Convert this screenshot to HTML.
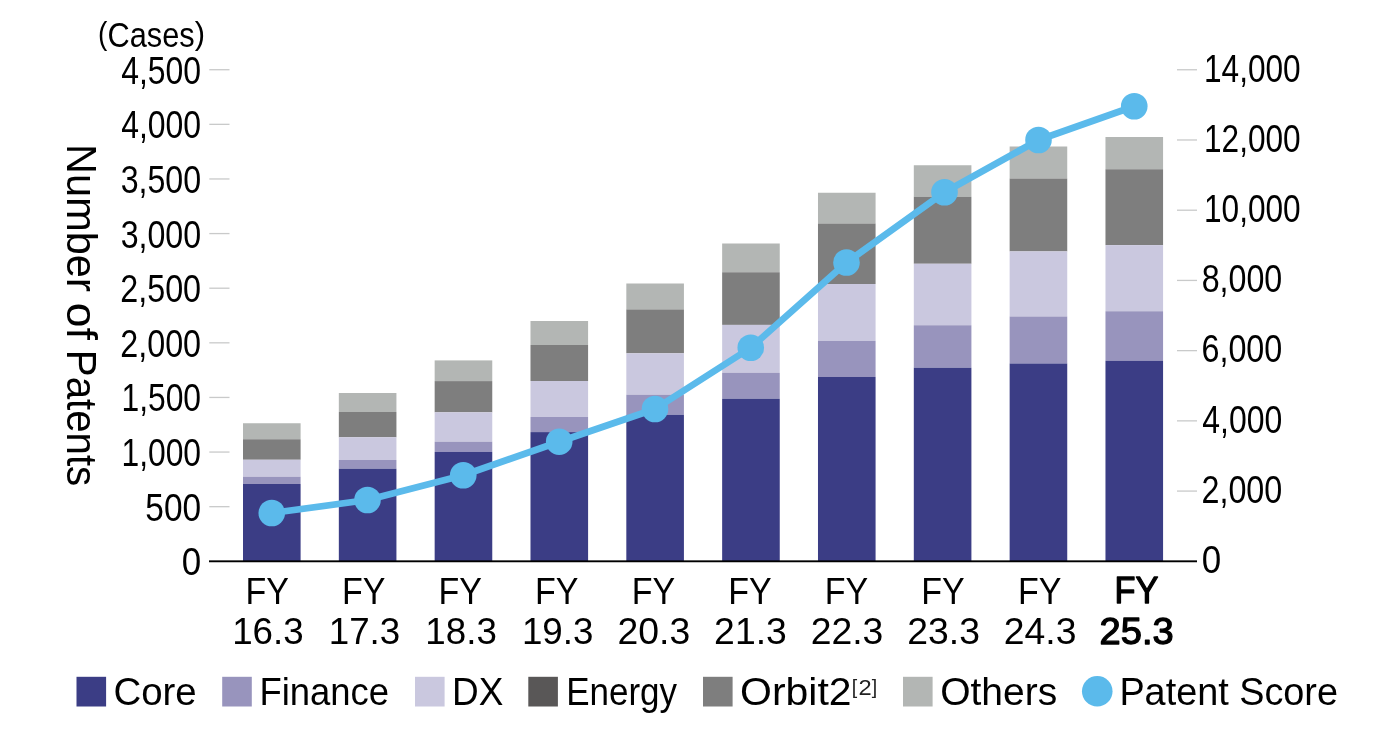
<!DOCTYPE html>
<html lang="en">
<head>
<meta charset="utf-8">
<title>Number of Patents and Patent Score</title>
<style>
html,body{margin:0;padding:0;background:#fff;}
body{width:1400px;height:742px;overflow:hidden;}
svg{display:block;font-family:"Liberation Sans", sans-serif;}
text{white-space:pre;font-kerning:none;}
</style>
</head>
<body>
<svg width="1400" height="742" viewBox="0 0 1400 742">
<rect width="1400" height="742" fill="#fff"/>
<rect x="209.3" y="506.03" width="20.2" height="1.3" fill="#c9caca"/>
<rect x="209.3" y="451.41" width="20.2" height="1.3" fill="#c9caca"/>
<rect x="209.3" y="396.79" width="20.2" height="1.3" fill="#c9caca"/>
<rect x="209.3" y="342.17" width="20.2" height="1.3" fill="#c9caca"/>
<rect x="209.3" y="287.55" width="20.2" height="1.3" fill="#c9caca"/>
<rect x="209.3" y="232.93" width="20.2" height="1.3" fill="#c9caca"/>
<rect x="209.3" y="178.31" width="20.2" height="1.3" fill="#c9caca"/>
<rect x="209.3" y="123.69" width="20.2" height="1.3" fill="#c9caca"/>
<rect x="209.3" y="69.07" width="20.2" height="1.3" fill="#c9caca"/>
<rect x="1177" y="490.43" width="20" height="1.3" fill="#c9caca"/>
<rect x="1177" y="420.21" width="20" height="1.3" fill="#c9caca"/>
<rect x="1177" y="349.99" width="20" height="1.3" fill="#c9caca"/>
<rect x="1177" y="279.77" width="20" height="1.3" fill="#c9caca"/>
<rect x="1177" y="209.55" width="20" height="1.3" fill="#c9caca"/>
<rect x="1177" y="139.33" width="20" height="1.3" fill="#c9caca"/>
<rect x="1177" y="69.11" width="20" height="1.3" fill="#c9caca"/>
<rect x="243.00" y="423.25" width="57.6" height="16.00" fill="#b3b6b4"/>
<rect x="243.00" y="439.25" width="57.6" height="20.50" fill="#7e7e7e"/>
<rect x="243.00" y="459.75" width="57.6" height="17.00" fill="#cac8df"/>
<rect x="243.00" y="476.75" width="57.6" height="7.25" fill="#9894bd"/>
<rect x="243.00" y="484.00" width="57.6" height="77.25" fill="#3b3d85"/>
<rect x="338.83" y="393.00" width="57.6" height="19.00" fill="#b3b6b4"/>
<rect x="338.83" y="412.00" width="57.6" height="25.25" fill="#7e7e7e"/>
<rect x="338.83" y="437.25" width="57.6" height="22.75" fill="#cac8df"/>
<rect x="338.83" y="460.00" width="57.6" height="8.75" fill="#9894bd"/>
<rect x="338.83" y="468.75" width="57.6" height="92.50" fill="#3b3d85"/>
<rect x="434.66" y="360.40" width="57.6" height="20.70" fill="#b3b6b4"/>
<rect x="434.66" y="381.10" width="57.6" height="31.20" fill="#7e7e7e"/>
<rect x="434.66" y="412.30" width="57.6" height="29.40" fill="#cac8df"/>
<rect x="434.66" y="441.70" width="57.6" height="10.20" fill="#9894bd"/>
<rect x="434.66" y="451.90" width="57.6" height="109.35" fill="#3b3d85"/>
<rect x="530.49" y="321.00" width="57.6" height="24.00" fill="#b3b6b4"/>
<rect x="530.49" y="345.00" width="57.6" height="36.00" fill="#7e7e7e"/>
<rect x="530.49" y="381.00" width="57.6" height="36.00" fill="#cac8df"/>
<rect x="530.49" y="417.00" width="57.6" height="15.10" fill="#9894bd"/>
<rect x="530.49" y="432.10" width="57.6" height="129.15" fill="#3b3d85"/>
<rect x="626.32" y="283.50" width="57.6" height="25.90" fill="#b3b6b4"/>
<rect x="626.32" y="309.40" width="57.6" height="43.90" fill="#7e7e7e"/>
<rect x="626.32" y="353.30" width="57.6" height="41.40" fill="#cac8df"/>
<rect x="626.32" y="394.70" width="57.6" height="20.10" fill="#9894bd"/>
<rect x="626.32" y="414.80" width="57.6" height="146.45" fill="#3b3d85"/>
<rect x="722.15" y="243.50" width="57.6" height="28.75" fill="#b3b6b4"/>
<rect x="722.15" y="272.25" width="57.6" height="52.65" fill="#7e7e7e"/>
<rect x="722.15" y="324.90" width="57.6" height="47.85" fill="#cac8df"/>
<rect x="722.15" y="372.75" width="57.6" height="26.00" fill="#9894bd"/>
<rect x="722.15" y="398.75" width="57.6" height="162.50" fill="#3b3d85"/>
<rect x="817.98" y="192.75" width="57.6" height="30.75" fill="#b3b6b4"/>
<rect x="817.98" y="223.50" width="57.6" height="60.50" fill="#7e7e7e"/>
<rect x="817.98" y="284.00" width="57.6" height="56.90" fill="#cac8df"/>
<rect x="817.98" y="340.90" width="57.6" height="36.00" fill="#9894bd"/>
<rect x="817.98" y="376.90" width="57.6" height="184.35" fill="#3b3d85"/>
<rect x="913.81" y="165.25" width="57.6" height="31.50" fill="#b3b6b4"/>
<rect x="913.81" y="196.75" width="57.6" height="67.00" fill="#7e7e7e"/>
<rect x="913.81" y="263.75" width="57.6" height="61.50" fill="#cac8df"/>
<rect x="913.81" y="325.25" width="57.6" height="42.50" fill="#9894bd"/>
<rect x="913.81" y="367.75" width="57.6" height="193.50" fill="#3b3d85"/>
<rect x="1009.64" y="146.50" width="57.6" height="32.00" fill="#b3b6b4"/>
<rect x="1009.64" y="178.50" width="57.6" height="72.90" fill="#7e7e7e"/>
<rect x="1009.64" y="251.40" width="57.6" height="65.10" fill="#cac8df"/>
<rect x="1009.64" y="316.50" width="57.6" height="47.00" fill="#9894bd"/>
<rect x="1009.64" y="363.50" width="57.6" height="197.75" fill="#3b3d85"/>
<rect x="1105.47" y="137.00" width="57.6" height="32.25" fill="#b3b6b4"/>
<rect x="1105.47" y="169.25" width="57.6" height="75.85" fill="#7e7e7e"/>
<rect x="1105.47" y="245.10" width="57.6" height="66.15" fill="#cac8df"/>
<rect x="1105.47" y="311.25" width="57.6" height="49.50" fill="#9894bd"/>
<rect x="1105.47" y="360.75" width="57.6" height="200.50" fill="#3b3d85"/>
<rect x="209" y="560.35" width="988" height="1.9" fill="#000"/>
<polyline fill="none" stroke="#5bbaeb" stroke-width="6.8" stroke-linejoin="round" points="271.75,513 367.5,500 463.25,475.25 559.2,441.7 655,409 750.75,347.75 846.5,262.5 944.5,192.25 1038.5,140 1134.25,106.25"/>
<circle cx="271.75" cy="513" r="13.3" fill="#5bbaeb"/>
<circle cx="367.5" cy="500" r="13.3" fill="#5bbaeb"/>
<circle cx="463.25" cy="475.25" r="13.3" fill="#5bbaeb"/>
<circle cx="559.2" cy="441.7" r="13.3" fill="#5bbaeb"/>
<circle cx="655" cy="409" r="13.3" fill="#5bbaeb"/>
<circle cx="750.75" cy="347.75" r="13.3" fill="#5bbaeb"/>
<circle cx="846.5" cy="262.5" r="13.3" fill="#5bbaeb"/>
<circle cx="944.5" cy="192.25" r="13.3" fill="#5bbaeb"/>
<circle cx="1038.5" cy="140" r="13.3" fill="#5bbaeb"/>
<circle cx="1134.25" cy="106.25" r="13.3" fill="#5bbaeb"/>
<text fill="#000"><tspan x="98.01" y="44.30" font-size="32.1" textLength="9.36" lengthAdjust="spacingAndGlyphs">(</tspan><tspan x="107.44" y="46.50" font-size="35.5" textLength="87.17" lengthAdjust="spacingAndGlyphs">Cases</tspan><tspan x="194.72" y="44.30" font-size="32.1" textLength="10.30" lengthAdjust="spacingAndGlyphs">)</tspan></text>
<text x="181.74" y="575.25" font-size="38" textLength="19.43" lengthAdjust="spacingAndGlyphs" fill="#000">0</text>
<text x="145.36" y="520.63" font-size="38" textLength="55.74" lengthAdjust="spacingAndGlyphs" fill="#000">500</text>
<text x="121.48" y="466.01" font-size="38" textLength="79.56" lengthAdjust="spacingAndGlyphs" fill="#000">1,000</text>
<text x="121.48" y="411.39" font-size="38" textLength="79.56" lengthAdjust="spacingAndGlyphs" fill="#000">1,500</text>
<text x="120.28" y="356.77" font-size="38" textLength="80.78" lengthAdjust="spacingAndGlyphs" fill="#000">2,000</text>
<text x="120.28" y="302.15" font-size="38" textLength="80.78" lengthAdjust="spacingAndGlyphs" fill="#000">2,500</text>
<text x="120.68" y="247.53" font-size="38" textLength="80.38" lengthAdjust="spacingAndGlyphs" fill="#000">3,000</text>
<text x="120.68" y="192.91" font-size="38" textLength="80.38" lengthAdjust="spacingAndGlyphs" fill="#000">3,500</text>
<text x="121.17" y="138.29" font-size="38" textLength="79.88" lengthAdjust="spacingAndGlyphs" fill="#000">4,000</text>
<text x="121.17" y="83.67" font-size="38" textLength="79.88" lengthAdjust="spacingAndGlyphs" fill="#000">4,500</text>
<text x="1201.74" y="573.15" font-size="38" textLength="19.43" lengthAdjust="spacingAndGlyphs" fill="#000">0</text>
<text x="1201.48" y="502.93" font-size="38" textLength="80.78" lengthAdjust="spacingAndGlyphs" fill="#000">2,000</text>
<text x="1202.37" y="432.71" font-size="38" textLength="79.88" lengthAdjust="spacingAndGlyphs" fill="#000">4,000</text>
<text x="1201.46" y="362.49" font-size="38" textLength="80.80" lengthAdjust="spacingAndGlyphs" fill="#000">6,000</text>
<text x="1201.70" y="292.27" font-size="38" textLength="80.56" lengthAdjust="spacingAndGlyphs" fill="#000">8,000</text>
<text x="1203.99" y="222.05" font-size="38" textLength="96.64" lengthAdjust="spacingAndGlyphs" fill="#000">10,000</text>
<text x="1203.99" y="151.83" font-size="38" textLength="96.64" lengthAdjust="spacingAndGlyphs" fill="#000">12,000</text>
<text x="1203.99" y="81.61" font-size="38" textLength="96.64" lengthAdjust="spacingAndGlyphs" fill="#000">14,000</text>
<text x="245.41" y="603.90" font-size="37.5" textLength="43.44" lengthAdjust="spacingAndGlyphs" fill="#000">FY</text>
<text x="232.20" y="644.00" font-size="37.5" textLength="71.51" lengthAdjust="spacingAndGlyphs" fill="#000">16.3</text>
<text x="341.97" y="603.90" font-size="37.5" textLength="43.44" lengthAdjust="spacingAndGlyphs" fill="#000">FY</text>
<text x="328.76" y="644.00" font-size="37.5" textLength="71.51" lengthAdjust="spacingAndGlyphs" fill="#000">17.3</text>
<text x="438.53" y="603.90" font-size="37.5" textLength="43.44" lengthAdjust="spacingAndGlyphs" fill="#000">FY</text>
<text x="425.32" y="644.00" font-size="37.5" textLength="71.51" lengthAdjust="spacingAndGlyphs" fill="#000">18.3</text>
<text x="535.09" y="603.90" font-size="37.5" textLength="43.44" lengthAdjust="spacingAndGlyphs" fill="#000">FY</text>
<text x="521.88" y="644.00" font-size="37.5" textLength="71.51" lengthAdjust="spacingAndGlyphs" fill="#000">19.3</text>
<text x="631.65" y="603.90" font-size="37.5" textLength="43.44" lengthAdjust="spacingAndGlyphs" fill="#000">FY</text>
<text x="617.56" y="644.00" font-size="37.5" textLength="72.72" lengthAdjust="spacingAndGlyphs" fill="#000">20.3</text>
<text x="728.21" y="603.90" font-size="37.5" textLength="43.44" lengthAdjust="spacingAndGlyphs" fill="#000">FY</text>
<text x="714.12" y="644.00" font-size="37.5" textLength="72.72" lengthAdjust="spacingAndGlyphs" fill="#000">21.3</text>
<text x="824.77" y="603.90" font-size="37.5" textLength="43.44" lengthAdjust="spacingAndGlyphs" fill="#000">FY</text>
<text x="810.68" y="644.00" font-size="37.5" textLength="72.72" lengthAdjust="spacingAndGlyphs" fill="#000">22.3</text>
<text x="921.33" y="603.90" font-size="37.5" textLength="43.44" lengthAdjust="spacingAndGlyphs" fill="#000">FY</text>
<text x="907.24" y="644.00" font-size="37.5" textLength="72.72" lengthAdjust="spacingAndGlyphs" fill="#000">23.3</text>
<text x="1017.89" y="603.90" font-size="37.5" textLength="43.44" lengthAdjust="spacingAndGlyphs" fill="#000">FY</text>
<text x="1003.80" y="644.00" font-size="37.5" textLength="72.72" lengthAdjust="spacingAndGlyphs" fill="#000">24.3</text>
<text x="1114.43" y="603.45" font-size="36.6" textLength="43.87" lengthAdjust="spacingAndGlyphs" fill="#000" stroke="#000" stroke-width="1.3" stroke-linejoin="round">FY</text>
<text x="1099.64" y="644.00" font-size="37.5" textLength="74.09" lengthAdjust="spacingAndGlyphs" fill="#000" stroke="#000" stroke-width="1.3" stroke-linejoin="round">25.3</text>
<rect x="76.5" y="676.8" width="29.6" height="29.7" fill="#3b3d85"/>
<text x="113.55" y="705.00" font-size="38" textLength="83.15" lengthAdjust="spacingAndGlyphs" fill="#000">Core</text>
<rect x="222.2" y="676.8" width="29.6" height="29.7" fill="#9894bd"/>
<text x="259.51" y="705.00" font-size="38" textLength="129.61" lengthAdjust="spacingAndGlyphs" fill="#000">Finance</text>
<rect x="415" y="676.8" width="29.6" height="29.7" fill="#cac8df"/>
<text x="451.97" y="705.00" font-size="38" textLength="51.31" lengthAdjust="spacingAndGlyphs" fill="#000">DX</text>
<rect x="528.3" y="676.8" width="29.6" height="29.7" fill="#595757"/>
<text x="566.13" y="705.00" font-size="38" textLength="110.94" lengthAdjust="spacingAndGlyphs" fill="#000">Energy</text>
<rect x="703" y="676.8" width="29.6" height="29.7" fill="#7e7e7e"/>
<text x="740.06" y="705.00" font-size="38" textLength="111.50" lengthAdjust="spacingAndGlyphs" fill="#000">Orbit2</text>
<text fill="#222"><tspan x="851.80" y="694.30" font-size="20.7" textLength="5.45" lengthAdjust="spacingAndGlyphs">[</tspan><tspan x="858.41" y="695.30" font-size="22.4" textLength="13.18" lengthAdjust="spacingAndGlyphs">2</tspan><tspan x="871.65" y="694.30" font-size="20.7" textLength="5.45" lengthAdjust="spacingAndGlyphs">]</tspan></text>
<rect x="903" y="676.8" width="29.6" height="29.7" fill="#b3b6b4"/>
<text x="940.15" y="705.00" font-size="38" textLength="117.01" lengthAdjust="spacingAndGlyphs" fill="#000">Others</text>
<circle cx="1097.25" cy="691.25" r="15.3" fill="#5bbaeb"/>
<text x="1119.40" y="705.00" font-size="38" textLength="218.53" lengthAdjust="spacingAndGlyphs" fill="#000">Patent Score</text>
<text transform="translate(67.1,0) rotate(90)" fill="#000"><tspan x="144.09" y="0.00" font-size="42" textLength="147.70" lengthAdjust="spacingAndGlyphs">Number</tspan> <tspan x="302.83" y="0.00" font-size="42" textLength="37.10" lengthAdjust="spacingAndGlyphs">of</tspan> <tspan x="349.80" y="0.00" font-size="42" textLength="136.45" lengthAdjust="spacingAndGlyphs">Patents</tspan></text>
</svg>
</body>
</html>
